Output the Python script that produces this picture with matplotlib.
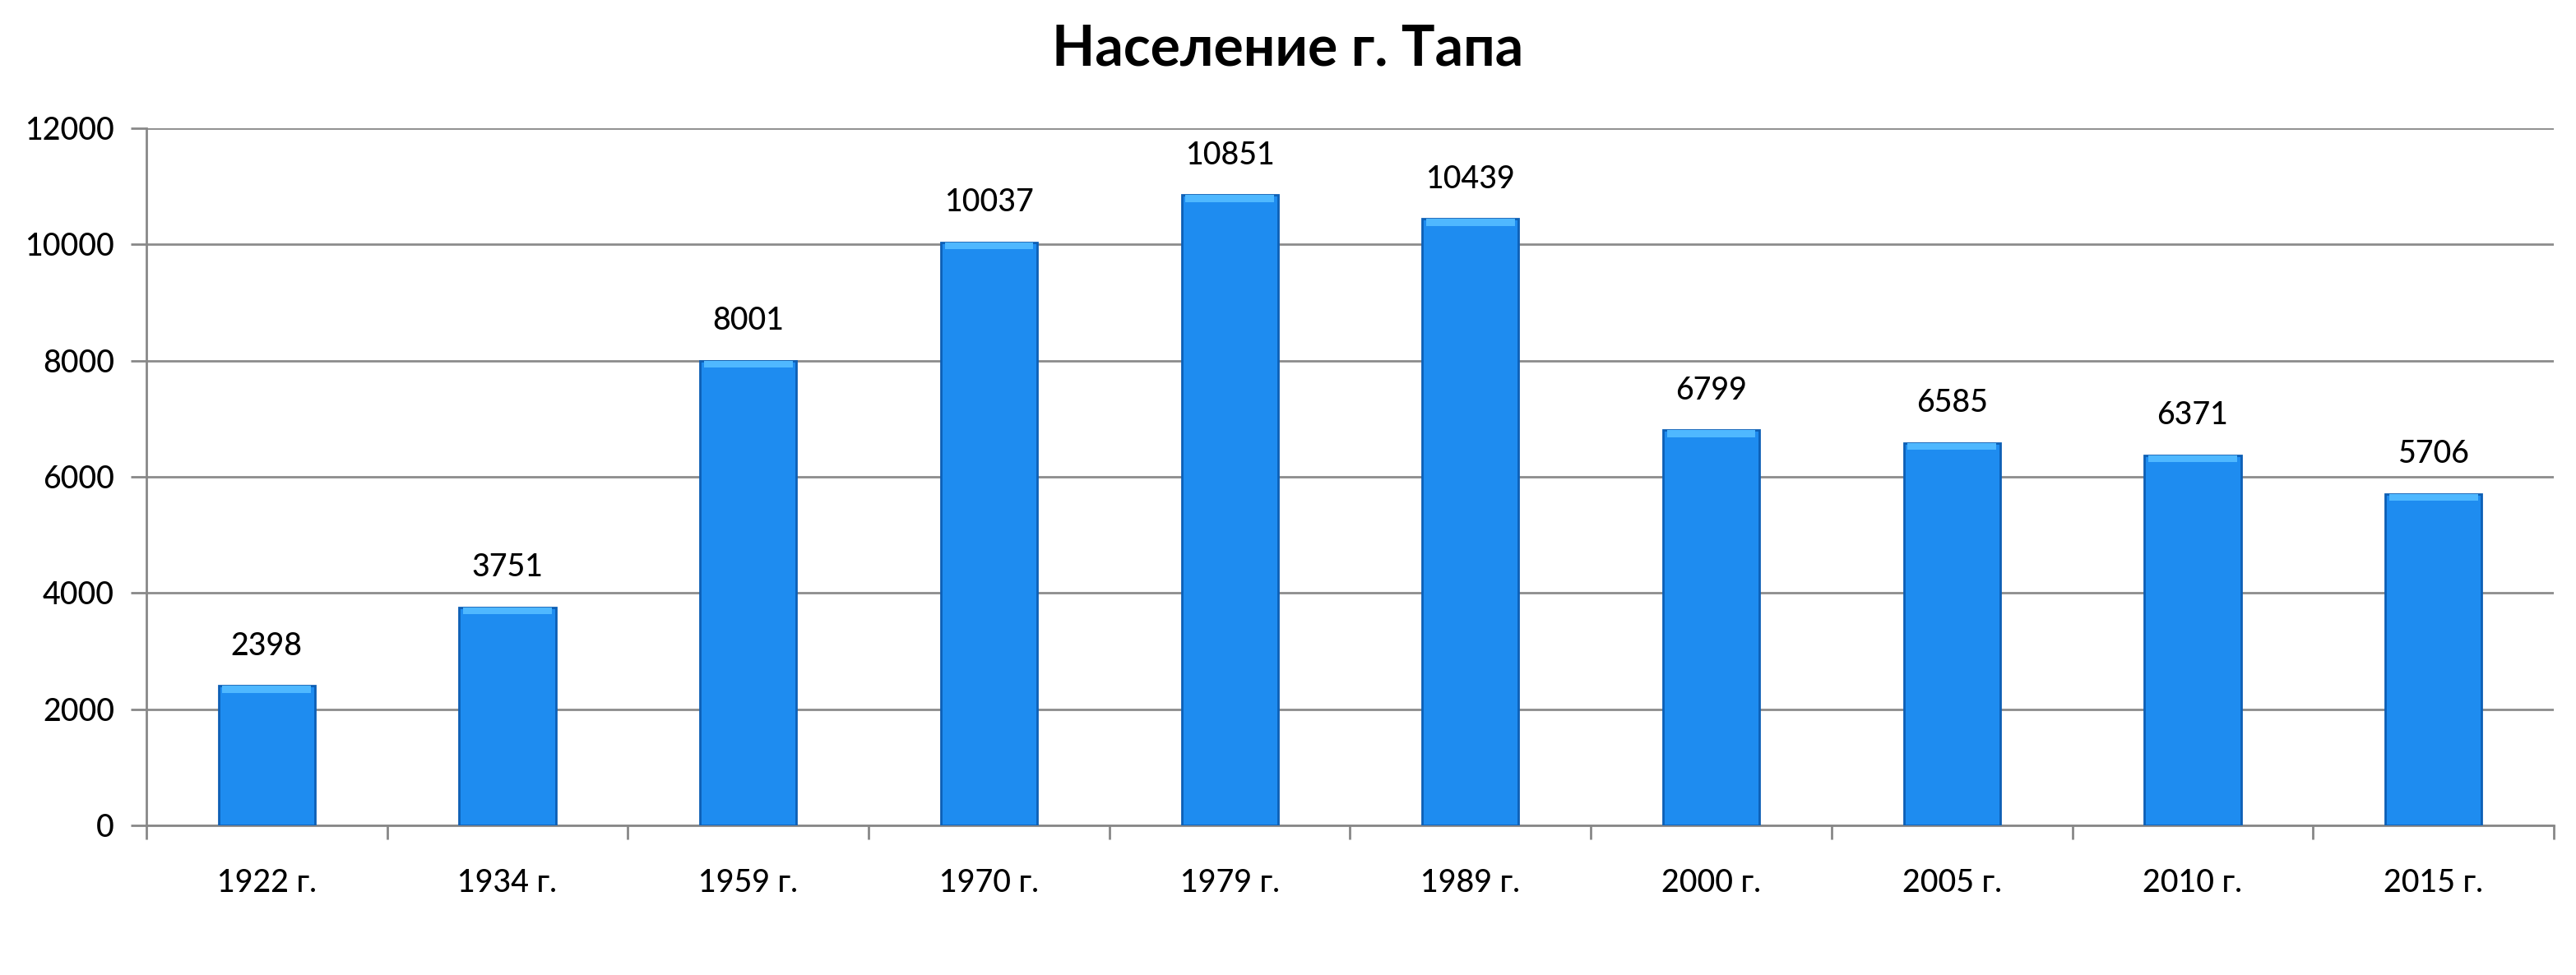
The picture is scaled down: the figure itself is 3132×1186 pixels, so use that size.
import matplotlib.pyplot as plt
import matplotlib
import numpy as np

matplotlib.rcParams['font.family'] = ['Lato', 'DejaVu Sans']

# данные
years = ['1922 г.', '1934 г.', '1959 г.', '1970 г.', '1979 г.',
         '1989 г.', '2000 г.', '2005 г.', '2010 г.', '2015 г.']
population = [2398, 3751, 8001, 10037, 10851, 10439, 6799, 6585, 6371, 5706]
y_ticks = [0, 2000, 4000, 6000, 8000, 10000, 12000]

fig = plt.figure(figsize=(31.32, 11.86), dpi=100)
ax = fig.add_axes([0.0568, 0.1535, 0.9346, 0.715])

x = np.arange(len(years))
bars = ax.bar(x, population, width=0.40, color='#1E8CF0',
              edgecolor='#0D5FB5', linewidth=2, zorder=3)

# светлая полоска сверху столбца
for b in bars:
    ax.bar(b.get_x() + b.get_width() / 2, 120, bottom=b.get_height() - 120,
           width=b.get_width() * 0.92, color='#4FB8FF', linewidth=0, zorder=4)

ax.bar_label(bars, labels=[str(v) for v in population], padding=22,
             fontsize=27, color='#000000', fontweight='medium')

ax.set_xlim(-0.5, len(years) - 0.5)
ax.set_ylim(0, 12000)
ax.set_yticks(y_ticks)
ax.set_yticklabels([str(t) for t in y_ticks], fontsize=27, fontweight='medium')
ax.set_xticks(x)
ax.set_xticklabels(years, fontsize=27, fontweight='medium')
ax.tick_params(axis='x', length=0, pad=38)
ax.set_xticks(np.arange(-0.5, len(years), 1), minor=True)
ax.tick_params(axis='x', which='minor', length=12, width=2, color='#888888')
ax.tick_params(axis='y', length=14, width=2, color='#888888', pad=14)

ax.grid(axis='y', color='#8C8C8C', linewidth=2, zorder=0)
for s in ['top', 'right']:
    ax.spines[s].set_visible(False)
for s in ['left', 'bottom']:
    ax.spines[s].set_color('#888888')
    ax.spines[s].set_linewidth(2)

fig.suptitle('Население г. Тапа', fontsize=49, fontweight='bold', y=0.949, va='center')

plt.savefig('out.png', dpi=100)
plt.close()
